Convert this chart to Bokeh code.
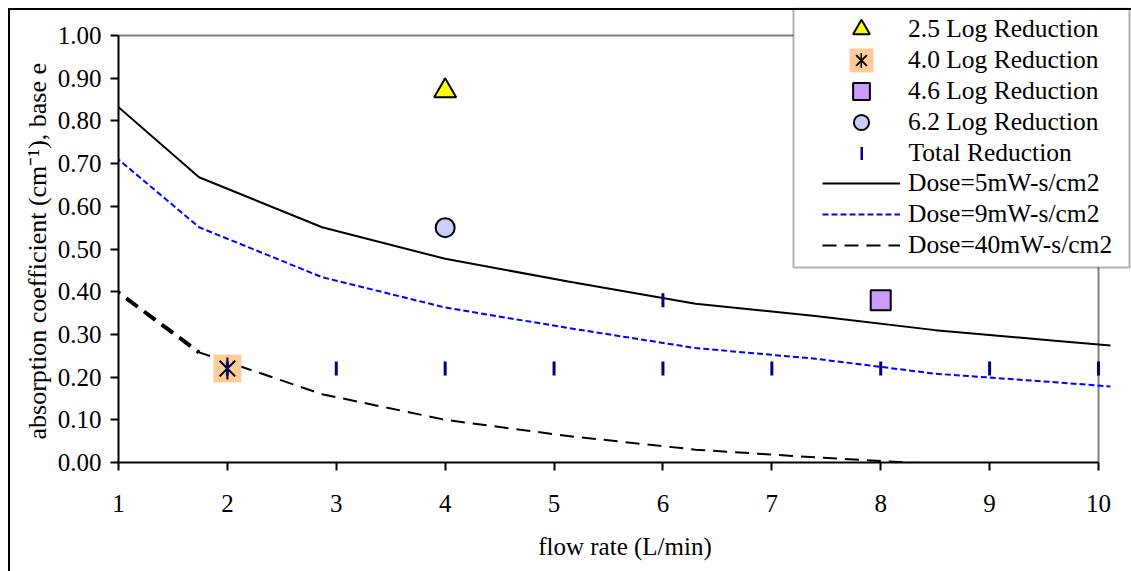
import math
from bokeh.plotting import figure
from bokeh.models import (Range1d, LinearAxis, FixedTicker, NumeralTickFormatter,
                          Legend, LegendItem, BoxAnnotation, InlineStyleSheet)
from bokeh.embed import file_html
from bokeh.resources import INLINE

# ---------------- data ----------------
FLOW = [0.91, 1.74, 2.87, 4.0, 5.13, 6.3, 7.4, 8.5, 9.6, 10.11]
DOSE5 = [0.852, 0.668, 0.551, 0.477, 0.424, 0.372, 0.343, 0.310, 0.285, 0.274]
DOSE9 = [0.729, 0.551, 0.434, 0.363, 0.315, 0.268, 0.243, 0.208, 0.188, 0.178]
DOSE40 = [0.415, 0.258, 0.160, 0.100, 0.062, 0.030, 0.012, -0.004, -0.020, -0.021]

LOG25_X = [4]
LOG25_Y = [0.87]
LOG40_X = [2]
LOG40_Y = [0.22]
LOG46_X = [8]
LOG46_Y = [0.38]
LOG62_X = [4]
LOG62_Y = [0.55]
TOTAL_X = [2, 3, 4, 5, 6, 6, 7, 8, 9, 10]
TOTAL_Y = [0.22, 0.22, 0.22, 0.22, 0.22, 0.38, 0.22, 0.22, 0.22, 0.22]

X_TICKS = [1, 2, 3, 4, 5, 6, 7, 8, 9, 10]
Y_TICKS = [0.0, 0.1, 0.2, 0.3, 0.4, 0.5, 0.6, 0.7, 0.8, 0.9, 1.0]
X_LABEL = "flow rate (L/min)"
# trailing no-break spaces move the rotated label down to the plot-area centre
Y_LABEL = "absorption coefficient (cm\u207b\u00b9), base e" + "\u00a0" * 5
LEGEND_LABELS = ["2.5 Log Reduction", "4.0 Log Reduction", "4.6 Log Reduction",
                 "6.2 Log Reduction", "Total Reduction", "Dose=5mW-s/cm2",
                 "Dose=9mW-s/cm2", "Dose=40mW-s/cm2"]

# ---------------- layout ----------------
FONT = "Liberation Serif"
FS = "25px"
YLAB_FS = "26px"
LEG_FS = "25.5px"
W, H = 1131, 571
PLOT_L, PLOT_R, PLOT_T, PLOT_B = 118, 1098, 35, 462
FRAME_R, FRAME_T = 1131, 7
X_MIN, X_MAX = X_TICKS[0], X_TICKS[-1]
Y_MIN, Y_MAX = Y_TICKS[0], Y_TICKS[-1]
kx = (PLOT_R - PLOT_L) / (X_MAX - X_MIN)
ky = (PLOT_B - PLOT_T) / (Y_MAX - Y_MIN)
x_end = X_MAX + (FRAME_R - PLOT_R) / kx
y_end = Y_MAX + (PLOT_T - FRAME_T) / ky

p = figure(width=W, height=H, x_range=Range1d(X_MIN, x_end),
           y_range=Range1d(Y_MIN, y_end), output_backend="svg",
           toolbar_location=None, x_axis_type=None, y_axis_type=None,
           min_border_left=PLOT_L, min_border_right=W - FRAME_R,
           min_border_top=FRAME_T, min_border_bottom=H - PLOT_B)
p.outline_line_color = None
p.background_fill_color = "white"
p.border_fill_color = "white"

# outer chart-area border (left and top edges visible in the window)
p.stylesheets = [InlineStyleSheet(css=(
    ":host::after { content: ''; position: absolute; left: 8px; top: 8px; "
    "right: 0px; bottom: 0px; border-left: 2px solid black; "
    "border-top: 2px solid black; pointer-events: none; z-index: 100; }"))]


def style_axis(ax, standoff, label_standoff, label_fs):
    ax.axis_line_color = "black"
    ax.axis_line_width = 2
    ax.major_tick_line_color = "black"
    ax.major_tick_line_width = 2
    ax.major_tick_in = 0
    ax.major_tick_out = 8
    ax.minor_tick_in = 0
    ax.minor_tick_out = 0
    ax.major_label_text_font = FONT
    ax.major_label_text_font_size = FS
    ax.major_label_text_color = "black"
    ax.major_label_standoff = standoff
    ax.axis_label_text_font = FONT
    ax.axis_label_text_font_size = label_fs
    ax.axis_label_text_font_style = "normal"
    ax.axis_label_text_color = "black"
    ax.axis_label_standoff = label_standoff


yaxis = LinearAxis(bounds=(Y_MIN, Y_MAX), ticker=FixedTicker(ticks=Y_TICKS),
                   formatter=NumeralTickFormatter(format="0.00"),
                   axis_label=Y_LABEL)
style_axis(yaxis, 9, 3, YLAB_FS)
p.add_layout(yaxis, "left")

xaxis = LinearAxis(bounds=(X_MIN, X_MAX), ticker=FixedTicker(ticks=X_TICKS),
                   axis_label=X_LABEL)
style_axis(xaxis, 24, 18, FS)
p.add_layout(xaxis, "below")

# plot-area border (top & right, gray)
p.line([X_MIN, X_MAX, X_MAX], [Y_MAX, Y_MAX, Y_MIN], line_color="#808080", line_width=2)

# curves
r5 = p.line(FLOW, DOSE5, line_color="black", line_width=2)
r9 = p.line(FLOW, DOSE9, line_color="#0000FF", line_width=2, line_dash="6 3")
p.line(FLOW[:2], DOSE40[:2], line_color="black", line_width=4, line_dash="14 8")
r40 = p.line(FLOW, DOSE40, line_color="black", line_width=2, line_dash="14 8")

# markers
rtri = p.scatter(LOG25_X, LOG25_Y, marker="triangle", size=22, fill_color="#FFFF00",
                 line_color="black", line_width=2)
rbg = p.scatter(LOG40_X, LOG40_Y, marker="square", size=28, fill_color="#FFCC99",
                line_color=None)
rx = p.scatter(LOG40_X, LOG40_Y, marker="x", size=22, line_color="black", line_width=2)
rv = p.scatter(LOG40_X, LOG40_Y, marker="dash", angle=math.pi / 2, size=22,
               line_color="black", line_width=2)
rsq = p.scatter(LOG46_X, LOG46_Y, marker="square", size=20, fill_color="#CC99FF",
                line_color="black", line_width=2)
rci = p.scatter(LOG62_X, LOG62_Y, marker="circle", size=19, fill_color="#CCCCFF",
                line_color="black", line_width=2)
rtot = p.scatter(TOTAL_X, TOTAL_Y, marker="dash", angle=math.pi / 2, size=14,
                 line_color="#000080", line_width=3)

# hidden, legend-only swatches for the vertical strokes (legend markers are never rotated)
sw_star_v = p.line(LOG40_X, LOG40_Y, line_color="black", line_width=15, visible=False)
sw_total = p.line(TOTAL_X, TOTAL_Y, line_color="#000080", line_width=13, visible=False)

# legend box (canvas pixels)
p.add_layout(BoxAnnotation(left=793, right=1129, top=8, bottom=267,
                           left_units="canvas", right_units="canvas",
                           top_units="canvas", bottom_units="canvas",
                           fill_color="white", fill_alpha=1.0,
                           line_color="black", line_width=2))

ROW_FIRST = 29.3
ROW_STEP = 30.8
GLYPH_CX = 861
TEXT_X = 908


def add_legend_row(renderers, label, row, glyph_w=78, glyph_h=42):
    cy = ROW_FIRST + row * ROW_STEP
    left = GLYPH_CX - glyph_w / 2
    top = cy - glyph_h / 2
    standoff = int(round(TEXT_X - (left + glyph_w)))
    leg = Legend(items=[LegendItem(label=label, renderers=renderers)],
                 location=(left - PLOT_L, PLOT_B - top - glyph_h),
                 padding=0, spacing=0, glyph_width=glyph_w, glyph_height=glyph_h,
                 label_height=glyph_h, label_standoff=standoff, margin=0,
                 border_line_color=None, background_fill_alpha=0,
                 inactive_fill_alpha=0,
                 label_text_font=FONT, label_text_font_size=LEG_FS,
                 label_text_color="black")
    p.add_layout(leg, "center")


add_legend_row([rtri], LEGEND_LABELS[0], 0, 42, 42)
add_legend_row([rbg], LEGEND_LABELS[1], 1, 60, 60)
add_legend_row([rx], " ", 1, 38, 38)
add_legend_row([sw_star_v], " ", 1, 2, 42)
add_legend_row([rsq], LEGEND_LABELS[2], 2, 42, 42)
add_legend_row([rci], LEGEND_LABELS[3], 3, 38, 38)
add_legend_row([sw_total], LEGEND_LABELS[4], 4, 3, 42)
add_legend_row([r5], LEGEND_LABELS[5], 5)
add_legend_row([r9], LEGEND_LABELS[6], 6)
add_legend_row([r40], LEGEND_LABELS[7], 7)

open("out.html", "w").write(file_html(p, INLINE))
